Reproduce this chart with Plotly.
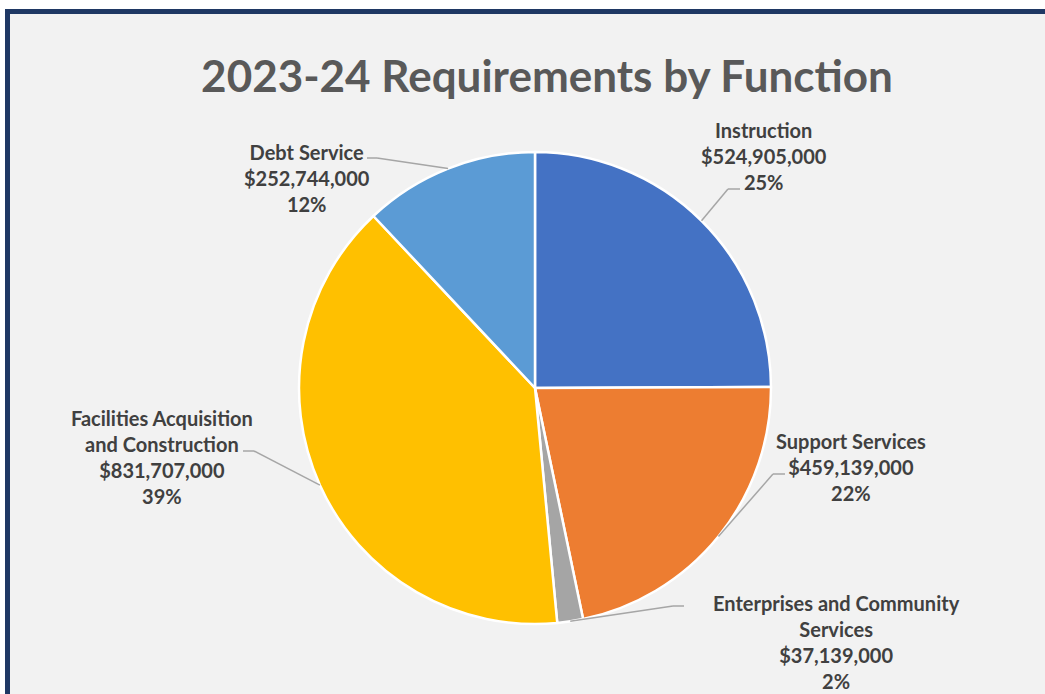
import math
import plotly.graph_objects as go

# ---- data ----
categories = ["Instruction", "Support Services", "Enterprises and Community Services",
              "Facilities Acquisition and Construction", "Debt Service"]
label_lines = ["Instruction", "Support Services", "Enterprises and Community<br>Services",
               "Facilities Acquisition<br>and Construction", "Debt Service"]
values = [524905000, 459139000, 37139000, 831707000, 252744000]
colors = ["#4472C4", "#ED7D31", "#A5A5A5", "#FFC000", "#5B9BD5"]
title_text = "2023-24 Requirements by Function"

# ---- layout helpers (pixel -> paper) ----
W, H = 1045, 694
def px(x):
    return x / W
def py(y):
    return 1 - y / H

CX, CY, R = 535, 388, 236
# label centres and leader-line elbows/ends (layout positions, pixels)
label_pos = [(764, 156), (851, 467), (836, 642), (162, 457), (307, 178)]
elbows = [((728, 189), (740, 189)),
          ((773, 474), (785, 474)),
          ((673, 606), (684, 606)),
          ((254, 451), (243, 451)),
          ((377, 158), (367, 158))]

total = sum(values)

fig = go.Figure(go.Pie(
    labels=categories,
    values=values,
    sort=False,
    direction="clockwise",
    rotation=0,
    textinfo="none",
    hoverinfo="label+value+percent",
    marker=dict(colors=colors, line=dict(color="white", width=2.5)),
    domain=dict(x=[px(CX - R), px(CX + R)], y=[py(CY + R), py(CY - R)]),
    showlegend=False,
))

shapes = []
annotations = []
cum = 0.0
for name, lab, v, (lx, ly), (el, en) in zip(categories, label_lines, values, label_pos, elbows):
    frac = v / total
    mid = (cum + frac / 2) * 2 * math.pi
    cum += frac
    ex = CX + R * math.sin(mid)
    ey = CY - R * math.cos(mid)
    for (x0, y0), (x1, y1) in [((ex, ey), el), (el, en)]:
        shapes.append(dict(type="line", xref="paper", yref="paper",
                           x0=px(x0), y0=py(y0), x1=px(x1), y1=py(y1),
                           line=dict(color="#A6A6A6", width=1.5)))
    pct = round(frac * 100)
    annotations.append(dict(
        xref="paper", yref="paper", x=px(lx), y=py(ly),
        xanchor="center", yanchor="middle", align="center", showarrow=False,
        text=f"<b>{lab}<br>${v:,.0f}<br>{pct}%</b>",
        font=dict(family="Lato", size=20, color="#404040"),
    ))

# frame: white outside strip + navy border
shapes.append(dict(type="rect", xref="paper", yref="paper", x0=0, x1=1, y0=py(9), y1=1,
                   fillcolor="white", line=dict(width=0), layer="above"))
shapes.append(dict(type="rect", xref="paper", yref="paper", x0=0, x1=px(5), y0=0, y1=1,
                   fillcolor="white", line=dict(width=0), layer="above"))
shapes.append(dict(type="line", xref="paper", yref="paper", x0=px(5), x1=1.0,
                   y0=py(11.5), y1=py(11.5), line=dict(color="#1F3864", width=5)))
shapes.append(dict(type="line", xref="paper", yref="paper", x0=px(7.5), x1=px(7.5),
                   y0=0, y1=py(9), line=dict(color="#1F3864", width=5)))

fig.update_layout(
    width=W, height=H,
    margin=dict(l=0, r=0, t=0, b=0),
    paper_bgcolor="#F2F2F2",
    plot_bgcolor="#F2F2F2",
    title=dict(text=f"<b>{title_text}</b>", x=px(547), y=py(77),
               xanchor="center", yanchor="middle", xref="paper", yref="paper",
               font=dict(family="Lato", size=44, color="#595959")),
    shapes=shapes,
    annotations=annotations,
)

fig.write_html("out.html",
               config={"displayModeBar": False},
               post_script="document.body.style.margin='0';document.body.style.overflow='hidden';")
